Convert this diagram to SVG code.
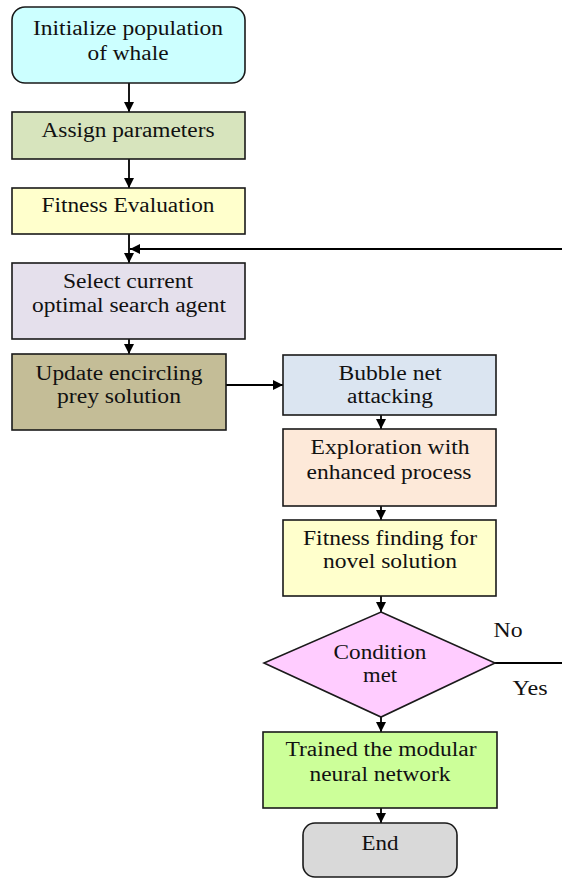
<svg xmlns="http://www.w3.org/2000/svg" width="562" height="880" viewBox="0 0 562 880" font-family="Liberation Serif, serif">
<style>
.box{stroke:#1a1a1a;stroke-width:1.6}
.t{font-family:"Liberation Serif",serif;font-size:20px;fill:#111;text-anchor:middle}
.c{fill:none;stroke:#000;stroke-width:1.8}
</style>
<defs>
<marker id="ah" viewBox="0 0 10 10" refX="10" refY="5" markerWidth="10" markerHeight="11" markerUnits="userSpaceOnUse" orient="auto">
<path d="M0,0 L10,5 L0,10 z" fill="#000"/>
</marker>
</defs>
<rect width="562" height="880" fill="#fff"/>
<g id="connectors">
<path class="c" d="M129,83 V112" marker-end="url(#ah)"/>
<path class="c" d="M129,159 V188" marker-end="url(#ah)"/>
<path class="c" d="M129,234 V263" marker-end="url(#ah)"/>
<path class="c" d="M129,339 V354" marker-end="url(#ah)"/>
<path class="c" d="M226,385 H283" marker-end="url(#ah)"/>
<path class="c" d="M381,415 V429" marker-end="url(#ah)"/>
<path class="c" d="M381,506 V520" marker-end="url(#ah)"/>
<path class="c" d="M381,596 V612" marker-end="url(#ah)"/>
<path class="c" d="M381,717 V732" marker-end="url(#ah)"/>
<path class="c" d="M381,808 V823" marker-end="url(#ah)"/>
<path class="c" d="M495,663 H572 V249 H130" marker-end="url(#ah)"/>
<text class="t" x="508" y="637" font-family="Liberation Serif" textLength="29" lengthAdjust="spacingAndGlyphs">No</text>
<text class="t" x="530" y="695" font-family="Liberation Serif" textLength="35" lengthAdjust="spacingAndGlyphs">Yes</text>
</g>
<g id="n1">
<rect class="box" x="12" y="7" width="233" height="76" rx="13" fill="#ccffff"/>
<text class="t" x="128" y="35" textLength="190" lengthAdjust="spacingAndGlyphs">Initialize population</text>
<text class="t" x="128" y="60" textLength="81" lengthAdjust="spacingAndGlyphs">of whale</text>
</g>
<g id="n2">
<rect class="box" x="12" y="112" width="233" height="47" fill="#d7e4bd"/>
<text class="t" x="128" y="137" textLength="173" lengthAdjust="spacingAndGlyphs">Assign parameters</text>
</g>
<g id="n3">
<rect class="box" x="12" y="188" width="233" height="46" fill="#ffffcc"/>
<text class="t" x="128" y="212" textLength="173" lengthAdjust="spacingAndGlyphs">Fitness Evaluation</text>
</g>
<g id="n4">
<rect class="box" x="12" y="263" width="233" height="76" fill="#e5e0ec"/>
<text class="t" x="128" y="288" textLength="130" lengthAdjust="spacingAndGlyphs">Select current</text>
<text class="t" x="129" y="312" textLength="194" lengthAdjust="spacingAndGlyphs">optimal search agent</text>
</g>
<g id="n5">
<rect class="box" x="12" y="354" width="214" height="76" fill="#c4bd97"/>
<text class="t" x="119" y="380" textLength="167" lengthAdjust="spacingAndGlyphs">Update encircling</text>
<text class="t" x="119" y="403" textLength="124" lengthAdjust="spacingAndGlyphs">prey solution</text>
</g>
<g id="n6">
<rect class="box" x="283" y="355" width="213" height="60" fill="#dbe5f1"/>
<text class="t" x="390" y="380" textLength="103" lengthAdjust="spacingAndGlyphs">Bubble net</text>
<text class="t" x="390" y="403" textLength="86" lengthAdjust="spacingAndGlyphs">attacking</text>
</g>
<g id="n7">
<rect class="box" x="283" y="429" width="213" height="77" fill="#fde9d9"/>
<text class="t" x="390" y="454" textLength="159" lengthAdjust="spacingAndGlyphs">Exploration with</text>
<text class="t" x="389" y="479" textLength="165" lengthAdjust="spacingAndGlyphs">enhanced process</text>
</g>
<g id="n8">
<rect class="box" x="283" y="520" width="213" height="76" fill="#ffffcc"/>
<text class="t" x="390" y="545" textLength="174" lengthAdjust="spacingAndGlyphs">Fitness finding for</text>
<text class="t" x="390" y="568" textLength="134" lengthAdjust="spacingAndGlyphs">novel solution</text>
</g>
<g id="n9">
<polygon class="box" points="381,612 495,663 381,717 264,663" fill="#ffccff"/>
<text class="t" x="380" y="659" textLength="93" lengthAdjust="spacingAndGlyphs">Condition</text>
<text class="t" x="380" y="682" textLength="34" lengthAdjust="spacingAndGlyphs">met</text>
</g>
<g id="n10">
<rect class="box" x="263" y="732" width="234" height="76" fill="#ccff99"/>
<text class="t" x="381" y="756" textLength="191" lengthAdjust="spacingAndGlyphs">Trained the modular</text>
<text class="t" x="380" y="781" textLength="141" lengthAdjust="spacingAndGlyphs">neural network</text>
</g>
<g id="n11">
<rect class="box" x="303" y="823" width="154" height="54" rx="12" fill="#d9d9d9"/>
<text class="t" x="380" y="850" textLength="37" lengthAdjust="spacingAndGlyphs">End</text>
</g>
</svg>
